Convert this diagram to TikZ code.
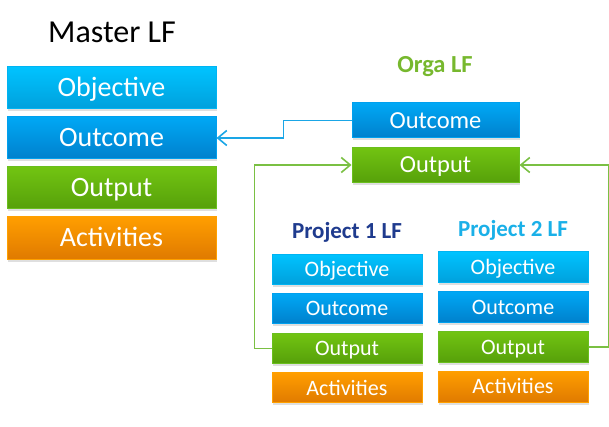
\documentclass[tikz,border=0pt]{standalone}
\usepackage{fontspec}
\setmainfont{Carlito}
\usetikzlibrary{arrows.meta,positioning,shadows,calc}
\definecolor{objtop}{HTML}{00C3FF}
\definecolor{objbot}{HTML}{00A0DC}
\definecolor{objline}{HTML}{00B4F2}
\definecolor{outctop}{HTML}{00A8F5}
\definecolor{outcbot}{HTML}{0080CC}
\definecolor{outcline}{HTML}{00A0EE}
\definecolor{outptop}{HTML}{72C412}
\definecolor{outpbot}{HTML}{56A00A}
\definecolor{outpline}{HTML}{6ABF1E}
\definecolor{acttop}{HTML}{FF9E00}
\definecolor{actbot}{HTML}{E07A00}
\definecolor{actline}{HTML}{FFA000}
\definecolor{orgagreen}{HTML}{77B82E}
\definecolor{projdark}{HTML}{1F3B8E}
\definecolor{projlight}{HTML}{1AB0E8}
\definecolor{linkblue}{HTML}{1AA6E6}
\definecolor{linkgreen}{HTML}{7AC043}

\begin{document}
\begin{tikzpicture}[x=1pt,y=-1pt,
  lfbox/.style={draw,line width=1pt,text=white,inner sep=0pt,
    drop shadow={shadow xshift=1pt,shadow yshift=-2.5pt,opacity=0.25}},
  objbox/.style={lfbox,draw=objline,top color=objtop,bottom color=objbot},
  outcbox/.style={lfbox,draw=outcline,top color=outctop,bottom color=outcbot},
  outpbox/.style={lfbox,draw=outpline,top color=outptop,bottom color=outpbot},
  actbox/.style={lfbox,draw=actline,top color=acttop,bottom color=actbot},
  master/.style={minimum width=209pt,minimum height=42pt,font=\fontsize{28}{30}\selectfont,
    text height=24pt,text depth=6pt},
  orga/.style={minimum width=167pt,minimum height=35pt,font=\fontsize{24.5}{26}\selectfont,
    text height=21pt,text depth=5.2pt},
  proj/.style={minimum width=150pt,minimum height=30pt,font=\fontsize{22}{24}\selectfont,
    text height=19pt,text depth=4.8pt},
  link/.style={line width=1.6pt,-{Straight Barb[length=9pt,width=15pt,line width=1.6pt]}}]
  \useasboundingbox (0,0) rectangle (609,427);

  % Master LF
  \node[font=\fontsize{32}{34}\selectfont] (mtitle) at (112,32) {Master LF};
  \foreach \n/\t/\s [count=\i] in {obj/Objective/objbox, outc/Outcome/outcbox,
      outp/Output/outpbox, act/Activities/actbox} {
    \node[\s,master] (m\n) at (111.5,38+50*\i) {\t};
  }

  % Orga LF
  \node[font=\bfseries\fontsize{24.5}{26}\selectfont,text=orgagreen] (otitle) at (435,67) {Orga LF};
  \node[outcbox,orga] (ooutc) at (435.5,120.5) {Outcome};
  \node[outpbox,orga] (ooutp) at (435.5,165) {Output};

  % Project LFs
  \node[font=\bfseries\fontsize{23}{25}\selectfont,text=projdark] (ptitlea) at (347,232) {Project 1 LF};
  \node[font=\bfseries\fontsize{23}{25}\selectfont,text=projlight] (ptitleb) at (513,230) {Project 2 LF};
  \foreach \n/\t/\s [count=\i] in {obj/Objective/objbox, outc/Outcome/outcbox,
      outp/Output/outpbox, act/Activities/actbox} {
    \node[\s,proj] (pa\n) at (347,229.5+39.6*\i) {\t};
    \node[\s,proj,minimum height=31pt] (pb\n) at (513,227.5+39.8*\i) {\t};
  }

  % links
  \draw[link,draw=linkblue] (ooutc.west) -- ++(-68,0) |- (moutc.east);
  \draw[link,draw=linkgreen] (paoutp.west) -- ++(-17,0) |- (ooutp.west);
  \draw[link,draw=linkgreen] (pboutp.east) -- ++(20,0) |- (ooutp.east);
\end{tikzpicture}
\end{document}
